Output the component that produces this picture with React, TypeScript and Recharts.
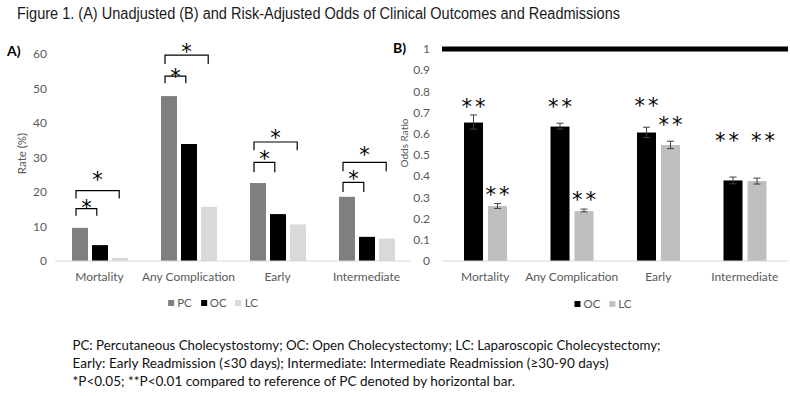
import React from "react";
import { BarChart, Bar, XAxis, YAxis, ErrorBar, ReferenceLine } from "recharts";

const FONT = "Lato, 'Open Sans', sans-serif";
const STAR_FONT = "'DejaVu Sans', sans-serif";
const TICK_COLOR = "#595959";

const categories = ["Mortality", "Any Complication", "Early", "Intermediate"];

// (A) unadjusted rates, %
const pcRate = [9.6, 47.8, 22.6, 18.6];
const ocRate = [4.6, 33.9, 13.6, 7.0];
const lcRate = [0.9, 15.7, 10.6, 6.5];
const rateTicks = [0, 10, 20, 30, 40, 50, 60];

// significance brackets in panel A (heights in %), PC vs OC = inner, PC vs LC = outer
const innerTop = [15.2, 53.6, 28.6, 22.8];
const innerFoot = [13.1, 51.5, 25.7, 20.0];
const innerStar = [17.1, 54.9, 31.3, 25.4];
const outerTop = [20.4, 59.7, 34.5, 28.6];
const outerFoot = [18.1, 57.1, 32.1, 26.0];
const outerStar = [25.1, 62.3, 37.4, 32.3];

// (B) risk-adjusted odds ratios vs PC
const ocOdds = [0.653, 0.634, 0.606, 0.38];
const ocLower = [0.622, 0.622, 0.582, 0.364];
const ocUpper = [0.689, 0.65, 0.631, 0.396];
const lcOdds = [0.259, 0.235, 0.547, 0.377];
const lcLower = [0.248, 0.232, 0.53, 0.363];
const lcUpper = [0.271, 0.245, 0.565, 0.391];
const ocStar = [0.755, 0.755, 0.757, 0.591];
const lcStar = [0.338, 0.316, 0.669, 0.591];
const oddsTicks = [0, 0.1, 0.2, 0.3, 0.4, 0.5, 0.6, 0.7, 0.8, 0.9, 1];

const title = "Figure 1. (A) Unadjusted (B) and Risk-Adjusted Odds of Clinical Outcomes and Readmissions";
const footnotes = [
  "PC: Percutaneous Cholecystostomy; OC: Open Cholecystectomy; LC: Laparoscopic Cholecystectomy;",
  "Early: Early Readmission (\u226430 days); Intermediate: Intermediate Readmission (\u226530-90 days)",
  "*P<0.05; **P<0.01 compared to reference of PC denoted by horizontal bar.",
];

const rateData = categories.map((name, i) => ({
  name,
  pc: pcRate[i],
  oc: ocRate[i],
  lc: lcRate[i],
  innerTop: innerTop[i],
  innerFoot: innerFoot[i],
  innerStar: innerStar[i],
  outerTop: outerTop[i],
  outerFoot: outerFoot[i],
  outerStar: outerStar[i],
}));

const oddsData = categories.map((name, i) => ({
  name,
  oc: ocOdds[i],
  lc: lcOdds[i],
  ocErr: [ocOdds[i] - ocLower[i], ocUpper[i] - ocOdds[i]],
  lcErr: [lcOdds[i] - lcLower[i], lcUpper[i] - lcOdds[i]],
  ocStar: ocStar[i],
  lcStar: lcStar[i],
}));

const BAR_A = 16;
const GAP_A = 4;
const BAR_B = 19;
const GAP_B = 5;
const STAR_SIZE = 21;
const STAR_SPACING = 3;
// distance from the asterisk's visual centre down to the baseline, in em
const STAR_DROP = 0.6;

type ShapeProps = {
  x?: number;
  y?: number;
  width?: number;
  height?: number;
  fill?: string;
  payload?: any;
};

// PC bar plus the two significance brackets drawn over its group
function PcBar(props: ShapeProps) {
  const { x = 0, y = 0, width = 0, height = 0, fill, payload } = props;
  if (!payload) return null;
  const base = y + height;
  const perUnit = height / payload.pc;
  const toPx = (v: number) => base - v * perUnit;
  const step = width + GAP_A;
  const left = x + width * 0.25;
  const innerRight = x + step + width * 0.3;
  const outerRight = x + 2 * step + width * 0.45;
  const starBase = (v: number) => toPx(v) + STAR_SIZE * STAR_DROP;
  return (
    <g>
      <rect x={x} y={y} width={width} height={height} fill={fill} />
      <path
        d={`M${left},${toPx(payload.innerFoot)}V${toPx(payload.innerTop)}H${innerRight}V${toPx(payload.innerFoot)}`}
        fill="none"
        stroke="#000"
        strokeWidth={1.2}
      />
      <path
        d={`M${left},${toPx(payload.outerFoot)}V${toPx(payload.outerTop)}H${outerRight}V${toPx(payload.outerFoot)}`}
        fill="none"
        stroke="#000"
        strokeWidth={1.2}
      />
      <text x={(left + innerRight) / 2} y={starBase(payload.innerStar)} textAnchor="middle" fontSize={STAR_SIZE} fontFamily={STAR_FONT} fill="#000">
        *
      </text>
      <text x={(left + outerRight) / 2} y={starBase(payload.outerStar)} textAnchor="middle" fontSize={STAR_SIZE} fontFamily={STAR_FONT} fill="#000">
        *
      </text>
    </g>
  );
}

// OC/LC bar with its "**" marker; when both markers of a group sit at the
// same height they are pushed apart so they do not run together
const makeOddsBar = (valueKey: string, starKey: string, otherStarKey: string, side: number) =>
  function OddsBar(props: ShapeProps) {
    const { x = 0, y = 0, width = 0, height = 0, fill, payload } = props;
    if (!payload) return null;
    const base = y + height;
    const perUnit = height / payload[valueKey];
    const starY = base - payload[starKey] * perUnit + STAR_SIZE * STAR_DROP;
    const clash = Math.abs(payload[starKey] - payload[otherStarKey]) < 0.05;
    const nudge = clash ? side * 6 : 0;
    return (
      <g>
        <rect x={x} y={y} width={width} height={height} fill={fill} />
        <text
          x={x + width / 2 + STAR_SPACING / 2 + nudge}
          y={starY}
          textAnchor="middle"
          fontSize={STAR_SIZE}
          fontFamily={STAR_FONT}
          letterSpacing={STAR_SPACING}
          fill="#000"
        >
          **
        </text>
      </g>
    );
  };

const OcOddsBar = makeOddsBar("oc", "ocStar", "lcStar", -1);
const LcOddsBar = makeOddsBar("lc", "lcStar", "ocStar", 1);

const legendA = [
  { label: "PC", color: "#7f7f7f" },
  { label: "OC", color: "#000000" },
  { label: "LC", color: "#d9d9d9" },
];
const legendB = [
  { label: "OC", color: "#000000" },
  { label: "LC", color: "#bfbfbf" },
];

function LegendRow({ items, center, top }: { items: { label: string; color: string }[]; center: number; top: number }) {
  return (
    <div
      style={{
        position: "absolute",
        left: center,
        top,
        transform: "translateX(-50%)",
        display: "flex",
        alignItems: "center",
        gap: 9,
        fontFamily: FONT,
        fontSize: 11.5,
        color: TICK_COLOR,
        whiteSpace: "nowrap",
      }}
    >
      {items.map((it) => (
        <div key={it.label} style={{ display: "flex", alignItems: "center", gap: 3 }}>
          <span style={{ display: "inline-block", width: 6, height: 6, background: it.color }} />
          <span>{it.label}</span>
        </div>
      ))}
    </div>
  );
}

const tickStyle = { fill: TICK_COLOR, fontSize: 12, fontFamily: FONT };

export default function App() {
  return (
    <div style={{ position: "relative", width: 790, height: 396, background: "#fff", overflow: "hidden" }}>
      <style>{"body{margin:0}"}</style>

      <div style={{ position: "absolute", left: 0, top: 0 }}>
        <BarChart
          width={420}
          height={320}
          data={rateData}
          margin={{ top: 54, right: 9, left: 15, bottom: 29 }}
          barSize={BAR_A}
          barGap={GAP_A}
        >
          <XAxis
            dataKey="name"
            interval={0}
            tickLine={false}
            axisLine={{ stroke: "#d9d9d9" }}
            tick={tickStyle}
            tickMargin={5}
            height={30}
          />
          <YAxis
            domain={[0, 60]}
            ticks={rateTicks}
            axisLine={false}
            tickLine={false}
            tick={tickStyle}
            width={40}
            label={{
              value: "Rate (%)",
              angle: -90,
              position: "insideLeft",
              offset: 7,
              dy: -4,
              style: { textAnchor: "middle", fontSize: 11.5, fontFamily: FONT, fill: TICK_COLOR },
            }}
          />
          <Bar dataKey="pc" fill="#7f7f7f" shape={PcBar} isAnimationActive={false} />
          <Bar dataKey="oc" fill="#000000" isAnimationActive={false} />
          <Bar dataKey="lc" fill="#d9d9d9" isAnimationActive={false} />
        </BarChart>
      </div>

      <div style={{ position: "absolute", left: 390, top: 0 }}>
        <BarChart
          width={400}
          height={320}
          data={oddsData}
          margin={{ top: 49, right: 2, left: 12, bottom: 29 }}
          barSize={BAR_B}
          barGap={GAP_B}
        >
          <XAxis
            dataKey="name"
            interval={0}
            tickLine={false}
            axisLine={{ stroke: "#d9d9d9" }}
            tick={tickStyle}
            tickMargin={5}
            height={30}
          />
          <YAxis
            domain={[0, 1]}
            ticks={oddsTicks}
            axisLine={false}
            tickLine={false}
            tick={tickStyle}
            tickMargin={6}
            width={40}
            label={{
              value: "Odds Ratio",
              angle: -90,
              position: "insideLeft",
              offset: 2,
              dy: -12,
              style: { textAnchor: "middle", fontSize: 10, fontFamily: FONT, fill: TICK_COLOR },
            }}
          />
          <Bar dataKey="oc" fill="#000000" shape={OcOddsBar} isAnimationActive={false}>
            <ErrorBar dataKey="ocErr" width={3.5} stroke="#404040" strokeWidth={1} />
          </Bar>
          <Bar dataKey="lc" fill="#bfbfbf" shape={LcOddsBar} isAnimationActive={false}>
            <ErrorBar dataKey="lcErr" width={3.5} stroke="#404040" strokeWidth={1} />
          </Bar>
          <ReferenceLine y={1} stroke="#000" strokeWidth={5} ifOverflow="visible" />
        </BarChart>
      </div>

      <LegendRow items={legendA} center={213} top={296} />
      <LegendRow items={legendB} center={603} top={297} />

      <svg width={790} height={396} style={{ position: "absolute", left: 0, top: 0, pointerEvents: "none" }}>
        <text
          x={17}
          y={19}
          fontSize={16}
          fontFamily="'Liberation Sans Narrow', 'Liberation Sans', Arial, sans-serif"
          textLength={603}
          lengthAdjust="spacingAndGlyphs"
          fill="#1a1a1a"
        >
          {title}
        </text>
        <text x={7} y={56} fontSize={14} fontWeight="bold" fontFamily={FONT} fill="#000">
          A)
        </text>
        <text x={393} y={53} fontSize={14} fontWeight="bold" fontFamily={FONT} fill="#000">
          B)
        </text>
        {footnotes.map((line, i) => (
          <text
            key={i}
            x={72.5}
            y={350 + i * 18}
            fontSize={14}
            fontFamily={FONT}
            fill="#111"
            textLength={[588, 536, 442.5][i]}
            lengthAdjust="spacingAndGlyphs"
          >
            {line}
          </text>
        ))}
      </svg>
    </div>
  );
}
